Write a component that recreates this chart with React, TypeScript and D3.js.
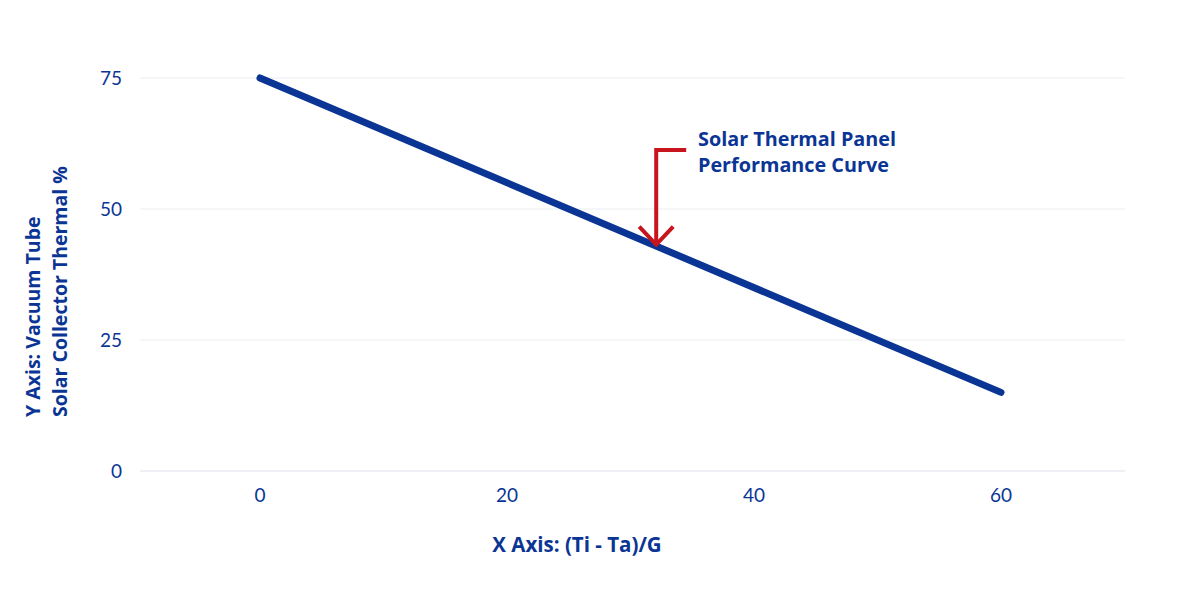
import React, { useEffect, useRef } from "react";
import * as d3 from "d3";

const xValues = [0, 60];
const yValues = [75, 15];
const xTicks = [0, 20, 40, 60];
const yTicks = [0, 25, 50, 75];
const annotationLines = ["Solar Thermal Panel", "Performance Curve"];
const annotationAt = { x: 32, y: 43 };

const BLUE = "#0b3594";
const RED = "#c8151d";

const App = () => {
  const ref = useRef<SVGSVGElement | null>(null);

  useEffect(() => {
    const svg = d3.select(ref.current);
    svg.selectAll("*").remove();

    const x = d3.scaleLinear().domain([-10, 70]).range([136.5, 1124.5]);
    const y = d3.scaleLinear().domain([0, 75]).range([471, 78]);

    // horizontal grid
    svg
      .append("g")
      .selectAll("line")
      .data(yTicks)
      .enter()
      .append("line")
      .attr("x1", 140)
      .attr("x2", 1125)
      .attr("y1", (d) => y(d))
      .attr("y2", (d) => y(d))
      .attr("stroke", (d) => (d === 0 ? "#e8ebf3" : "#f2f3f6"))
      .attr("stroke-width", 1.5);

    svg
      .append("g")
      .selectAll("text")
      .data(yTicks)
      .enter()
      .append("text")
      .attr("x", 122)
      .attr("y", (d) => y(d))
      .attr("dy", "0.35em")
      .attr("text-anchor", "end")
      .attr("font-family", "Lato")
      .attr("font-size", 19)
      .attr("fill", BLUE)
      .text((d) => d);

    svg
      .append("g")
      .selectAll("text")
      .data(xTicks)
      .enter()
      .append("text")
      .attr("x", (d) => x(d))
      .attr("y", 495)
      .attr("dy", "0.35em")
      .attr("text-anchor", "middle")
      .attr("font-family", "Lato")
      .attr("font-size", 19)
      .attr("fill", BLUE)
      .text((d) => d);

    const pts = xValues.map((v, i) => [v, yValues[i]] as [number, number]);
    const line = d3
      .line<[number, number]>()
      .x((d) => x(d[0]))
      .y((d) => y(d[1]));

    svg
      .append("path")
      .attr("d", line(pts))
      .attr("fill", "none")
      .attr("stroke", BLUE)
      .attr("stroke-width", 7)
      .attr("stroke-linecap", "round");

    // annotation arrow
    const tipX = x(annotationAt.x) + 1;
    const tipY = y(annotationAt.y) - 1;
    svg
      .append("path")
      .attr("d", `M${tipX + 30},150 L${tipX},150 L${tipX},${tipY}`)
      .attr("fill", "none")
      .attr("stroke", RED)
      .attr("stroke-width", 4);
    svg
      .append("path")
      .attr("d", `M${tipX - 17},${tipY - 18} L${tipX},${tipY} L${tipX + 17},${tipY - 18}`)
      .attr("fill", "none")
      .attr("stroke", RED)
      .attr("stroke-width", 4);

    svg
      .append("g")
      .selectAll("text")
      .data(annotationLines)
      .enter()
      .append("text")
      .attr("x", 698)
      .attr("y", (d, i) => 146 + i * 26)
      .attr("font-family", "Open Sans")
      .attr("font-weight", "bold")
      .attr("font-size", 19.8)
      .attr("fill", BLUE)
      .text((d) => d);

    svg
      .append("text")
      .attr("x", 577)
      .attr("y", 545)
      .attr("dy", "0.35em")
      .attr("text-anchor", "middle")
      .attr("font-family", "Open Sans")
      .attr("font-weight", "bold")
      .attr("font-size", 20.5)
      .attr("fill", BLUE)
      .text("X Axis: (Ti - Ta)/G");

    const yLabel = svg
      .append("text")
      .attr("transform", "translate(0,417) rotate(-90)")
      .attr("font-family", "Open Sans")
      .attr("font-weight", "bold")
      .attr("font-size", 19.5)
      .attr("fill", BLUE);
    yLabel.append("tspan").attr("x", 0).attr("y", 40).text("Y Axis: Vacuum Tube");
    yLabel.append("tspan").attr("x", 0).attr("y", 67).text("Solar Collector Thermal %");
  }, []);

  return (
    <div style={{ position: "absolute", left: 0, top: 0, background: "#fff" }}>
      <svg ref={ref} width={1200} height={600} style={{ display: "block" }} />
    </div>
  );
};

export default App;
